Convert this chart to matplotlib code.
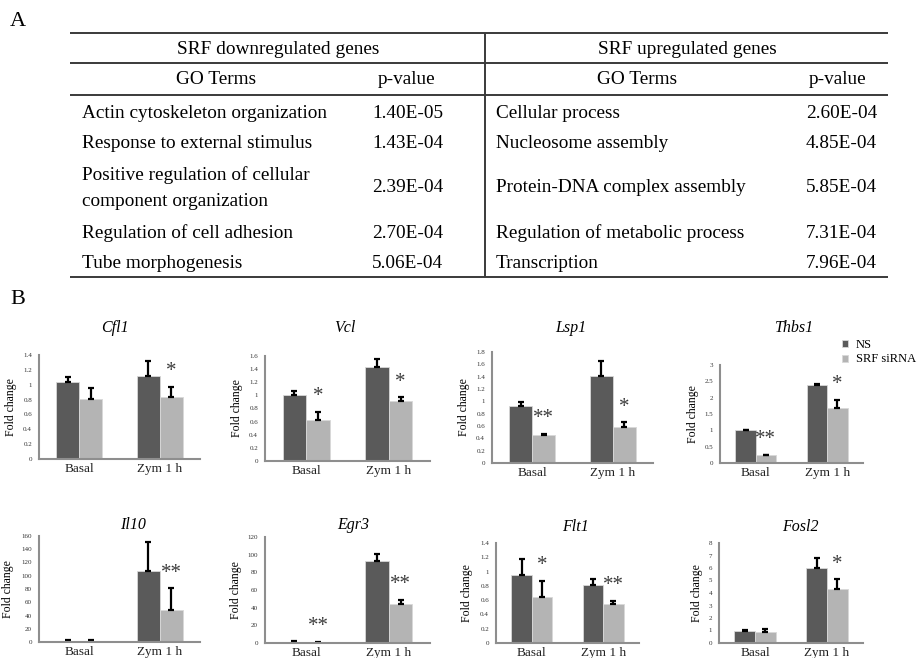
import matplotlib.pyplot as plt
from matplotlib.ticker import MultipleLocator, FuncFormatter

plt.rcParams['font.family'] = ['Liberation Serif', 'DejaVu Serif']

# ---- GO term table (panel A)
down_terms = ['Actin cytoskeleton organization', 'Response to external stimulus',
              'Positive regulation of cellular\ncomponent organization',
              'Regulation of cell adhesion', 'Tube morphogenesis']
down_pvals = ['1.40E-05', '1.43E-04', '2.39E-04', '2.70E-04', '5.06E-04']
up_terms = ['Cellular process', 'Nucleosome assembly', 'Protein-DNA complex assembly',
            'Regulation of metabolic process', 'Transcription']
up_pvals = ['2.60E-04', '4.85E-04', '5.85E-04', '7.31E-04', '7.96E-04']
row_lines = [1, 1, 2, 1, 1]

# ---- qPCR fold change (panel B)
groups = ['Basal', 'Zym 1 h']
genes = ['Cfl1', 'Vcl', 'Lsp1', 'Thbs1', 'Il10', 'Egr3', 'Flt1', 'Fosl2']
ns_mean = [[1.04, 1.12], [1.0, 1.43], [0.92, 1.41], [1.0, 2.39],
           [1.0, 107], [1.0, 93], [0.95, 0.81], [1.0, 6.0]]
ns_err = [[0.07, 0.2], [0.06, 0.12], [0.07, 0.24], [0.02, 0.04],
          [1.5, 44], [1.0, 8], [0.23, 0.08], [0.05, 0.8]]
si_mean = [[0.81, 0.83], [0.62, 0.91], [0.46, 0.59], [0.23, 1.68],
           [1.0, 48], [0.3, 44], [0.65, 0.55], [0.85, 4.35]]
si_err = [[0.15, 0.14], [0.13, 0.06], [0.01, 0.07], [0.03, 0.25],
          [1.5, 33], [1.0, 5], [0.22, 0.04], [0.3, 0.75]]
stars = [['', '*'], ['*', '*'], ['**', '*'], ['**', '*'],
         ['', '**'], ['**', '**'], ['*', '**'], ['', '*']]
y_max = [1.4, 1.6, 1.8, 3, 160, 120, 1.4, 8]
y_step = [0.2, 0.2, 0.2, 0.5, 20, 20, 0.2, 1]

W, H = 917, 658
fig = plt.figure(figsize=(W / 100, H / 100), dpi=100)

# overlay in pixel units for the table and panel letters
ov = fig.add_axes([0, 0, 1, 1])
ov.set_xlim(0, W)
ov.set_ylim(H, 0)
ov.axis('off')

line_kw = dict(color='#3a3a3a', lw=1.4)
tfs = 13.9
ov.text(10, 22, 'A', fontsize=16, va='center')
ov.text(10, 300, 'B', fontsize=16, va='center')

ov.hlines([33, 63, 95], 70, 888, **line_kw)
ov.vlines(485, 33, 277, **line_kw)
ov.hlines(277, 70, 888, **line_kw)

ov.text(278, 49, 'SRF downregulated genes', fontsize=tfs, ha='center', va='center')
ov.text(687, 49, 'SRF upregulated genes', fontsize=tfs, ha='center', va='center')
ov.text(216, 80, 'GO Terms', fontsize=tfs, ha='center', va='center')
ov.text(407, 80, 'p-value', fontsize=tfs, ha='center', va='center')
ov.text(637, 80, 'GO Terms', fontsize=tfs, ha='center', va='center')
ov.text(838, 80, 'p-value', fontsize=tfs, ha='center', va='center')

y = 97
for i, n in enumerate(row_lines):
    h = 30 * n
    yc = y + h / 2 + 1
    ov.text(82, yc, down_terms[i], fontsize=tfs, va='center', linespacing=1.7)
    ov.text(443, yc, down_pvals[i], fontsize=tfs, ha='right', va='center')
    ov.text(496, yc, up_terms[i], fontsize=tfs, va='center')
    ov.text(877, yc, up_pvals[i], fontsize=tfs, ha='right', va='center')
    y += h

# bar chart boxes in pixels: left, right, top, bottom
boxes = [(39, 200, 355, 459), (265, 430, 356, 461), (492, 653, 352, 463), (720, 863, 365, 463),
         (39, 200, 536, 642), (265, 430, 537, 643), (496, 639, 543, 643), (719, 863, 543, 643)]
title_pos = [(115, 328), (345, 328), (571, 328), (795, 328),
             (133, 525), (353, 525), (575, 527), (800, 527)]
ylab_x = [17, 243, 470, 699, 14, 242, 473, 703]

c_ns = '#5a5a5a'
c_si = '#b4b4b4'
spine_c = '#8e8e8e'
bw = 0.285
x = [0, 1]

for k in range(8):
    l, r, t, b = boxes[k]
    ax = fig.add_axes([l / W, 1 - b / H, (r - l) / W, (b - t) / H])
    xl = [v - bw / 2 for v in x]
    xr = [v + bw / 2 for v in x]
    b1 = ax.bar(xl, ns_mean[k], bw, color=c_ns, edgecolor='#d8d8d8', lw=0.6, label='NS')
    b2 = ax.bar(xr, si_mean[k], bw, color=c_si, edgecolor='#d8d8d8', lw=0.6, label='SRF siRNA')
    ax.errorbar(xl, ns_mean[k], yerr=[[0, 0], ns_err[k]], fmt='none', ecolor='black',
                elinewidth=1.6, capsize=2, capthick=1.6)
    ax.errorbar(xr, si_mean[k], yerr=[[0, 0], si_err[k]], fmt='none', ecolor='black',
                elinewidth=1.6, capsize=2, capthick=1.6)
    for j in range(2):
        if stars[k][j]:
            ax.annotate(stars[k][j], (xr[j], si_mean[k][j] + si_err[k][j]),
                        xytext=(0, 4), textcoords='offset points', ha='center', va='bottom',
                        fontsize=15, color='#3c3c3c')
    ax.set_xlim(-0.5, 1.5)
    ax.set_ylim(0, y_max[k])
    ax.yaxis.set_major_locator(MultipleLocator(y_step[k]))
    ax.yaxis.set_major_formatter(FuncFormatter(lambda v, p: f'{v:g}'))
    ax.set_xticks(x)
    ax.set_xticklabels(groups)
    ax.tick_params(axis='y', length=0, labelsize=5, pad=5, labelcolor='#333333')
    ax.tick_params(axis='x', length=0, labelsize=9.5, pad=3, labelcolor='#222222')
    for s in ['top', 'right']:
        ax.spines[s].set_visible(False)
    for s in ['left', 'bottom']:
        ax.spines[s].set_color(spine_c)
        ax.spines[s].set_linewidth(1.5)
    ax.set_ylabel('Fold change', fontsize=8.5)
    ax.yaxis.set_label_coords((ylab_x[k] - l) / (r - l), 0.5)
    tx, ty = title_pos[k]
    fig.text(tx / W, 1 - ty / H, genes[k], fontsize=11.5, style='italic',
             ha='center', va='center')
    if k == 3:
        fig.legend(handles=[b1, b2], loc='upper left', bbox_to_anchor=(842 / W, 1 - 339 / H),
                   frameon=False, fontsize=9, handlelength=0.5, handleheight=0.5,
                   handletextpad=0.6, labelspacing=0.2, borderpad=0, borderaxespad=0)

fig.savefig('out.png', dpi=100)
